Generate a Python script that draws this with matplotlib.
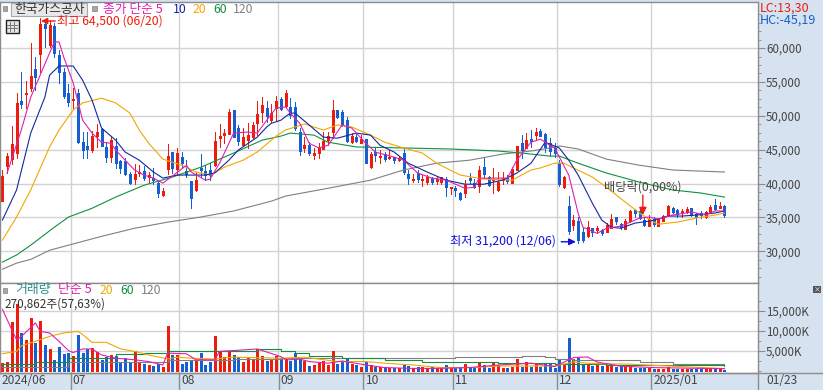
import numpy as np
import matplotlib
matplotlib.use("Agg")
from matplotlib import pyplot as plt
from matplotlib.patches import Rectangle

plt.rcParams["font.family"] = ["Noto Sans CJK KR", "DejaVu Sans"]

# Daily candles, one value per trading day
opens = [37400, 42550, 43600, 44500, 52150, 53200, 54100, 56900, 59100, 63550,
         60450, 63250, 58950, 56450, 53350, 52300, 53350, 46100, 45550, 44950,
         47000, 48050, 45400, 43900, 45550, 43300, 43300, 41400, 40650, 41550,
         41850, 40950, 40800, 40050, 38300, 42150, 44650, 42150, 43900, 41850,
         40350, 39050, 42300, 41850, 42000, 42700, 46700, 47150, 47300, 50850,
         48200, 45650, 46400, 46850, 48900, 50550, 51150, 49350, 51150, 52450,
         51450, 51300, 51300, 47600, 45250, 45650, 44200, 44500, 45100, 46400,
         47600, 50850, 50550, 49350, 46100, 46850, 45950, 46550, 42400, 44650,
         43900, 44350, 43750, 43900, 43450, 44500, 41400, 40500, 41550, 40500,
         40200, 40800, 40350, 40200, 40650, 39300, 39300, 38600, 38600, 40800,
         40050, 39600, 42400, 40950, 40500, 39050, 40500, 40800, 40050, 42000,
         45950, 45250, 46550, 47150, 47750, 47300, 45950, 45250, 43000, 39450,
         36650, 33850, 34450, 32800, 32250, 33400, 33100, 33100, 32800, 33400,
         35050, 34000, 33250, 34450, 36050, 35950, 34600, 33700, 34750, 33700,
         34450, 35350, 36350, 36050, 35800, 35800, 36350, 35450, 35650, 35050,
         35650, 36800, 36350, 36650]
highs = [42000, 44500, 48500, 53350, 56450, 55150, 60750, 58650, 64500, 63850,
         64150, 63700, 59700, 57050, 54700, 54100, 53950, 47600, 47600, 47750,
         48800, 48200, 46100, 46850, 46700, 43450, 43750, 41700, 42850, 42700,
         42550, 41700, 42300, 40500, 39300, 45800, 44650, 45250, 44650, 43450,
         40350, 41700, 44350, 42700, 43000, 47600, 48800, 48050, 51000, 50850,
         48650, 48200, 48950, 49050, 52150, 52750, 52150, 51750, 52900, 52750,
         53800, 52600, 52000, 48200, 46850, 46100, 45250, 45950, 47600, 47600,
         52300, 50850, 50850, 49800, 47450, 47450, 47150, 46550, 44650, 45400,
         44950, 44650, 44950, 43900, 44050, 45250, 42000, 41400, 42000, 41250,
         41250, 40950, 40950, 40950, 40950, 39450, 39600, 38750, 40500, 41550,
         40650, 42550, 43900, 41100, 42300, 41700, 41700, 41250, 42400, 45550,
         47150, 47450, 47900, 48200, 48050, 47450, 46700, 45950, 43450, 41100,
         38150, 35350, 35050, 33550, 34450, 33400, 33700, 33250, 34150, 35500,
         35050, 34150, 34750, 36050, 36200, 36500, 35050, 35350, 35050, 34900,
         35350, 36800, 36500, 36200, 36200, 36500, 36350, 35650, 35950, 35950,
         36800, 37700, 37250, 36800]
lows = [37400, 41550, 42850, 43750, 51150, 51150, 53650, 53800, 56450, 60150,
        60150, 58650, 54850, 52600, 51450, 51150, 45950, 43750, 43750, 44650,
        45400, 45550, 43150, 43150, 42300, 41550, 41250, 39900, 39900, 41100,
        40500, 40200, 39900, 38000, 38150, 41400, 41550, 41400, 42300, 40950,
        36350, 38900, 40950, 40500, 40500, 42550, 45400, 45950, 47300, 46850,
        45650, 45550, 45250, 46700, 47150, 49050, 49050, 49050, 49200, 50850,
        51300, 49650, 47900, 44200, 44650, 44200, 43600, 43750, 45100, 45650,
        46700, 49650, 48500, 46100, 45950, 46100, 45950, 43000, 42300, 43300,
        43000, 43300, 43600, 43000, 43300, 41400, 39900, 40200, 40200, 39600,
        39900, 39900, 39900, 39900, 38150, 38450, 38150, 37550, 38000, 40050,
        39300, 38750, 40800, 39600, 38600, 38900, 39900, 40050, 40050, 42000,
        43750, 45250, 45400, 46550, 47000, 44650, 44050, 43900, 39600, 39300,
        32550, 33100, 31200, 31300, 32100, 32250, 32650, 32400, 32800, 33400,
        34000, 33250, 33250, 34300, 35050, 34750, 33700, 33700, 33700, 33700,
        34450, 35200, 35650, 35050, 35050, 35650, 35200, 34000, 34900, 34900,
        35650, 36050, 36350, 35050]
closes = [41150, 44050, 45800, 51900, 51750, 53350, 55850, 55700, 63550, 62950,
          63400, 59250, 56450, 52900, 52000, 52450, 46100, 44950, 45100, 47000,
          47600, 45550, 43900, 46400, 43000, 42300, 41400, 40050, 41400, 41700,
          40800, 41250, 40500, 38600, 38900, 44050, 42300, 44500, 43000, 41400,
          37850, 40500, 42000, 41250, 41250, 46250, 47000, 47450, 50550, 46850,
          46250, 46850, 47150, 48650, 50250, 51600, 49950, 50400, 52150, 51000,
          53350, 50100, 48200, 44800, 45650, 44500, 44500, 45400, 46250, 47000,
          50850, 49800, 48800, 46250, 47000, 46250, 46550, 43000, 44350, 44200,
          44050, 43600, 43900, 43450, 43750, 41700, 40800, 40650, 40650, 40650,
          40950, 40200, 40650, 40950, 39450, 39450, 39050, 37700, 39750, 40500,
          39450, 42000, 41400, 39750, 40650, 40200, 40800, 40350, 42150, 45550,
          44950, 46400, 46250, 47600, 47000, 45400, 44800, 44500, 39900, 40950,
          32950, 34600, 31650, 31650, 33550, 32800, 33400, 32650, 33850, 34750,
          34450, 33550, 34450, 35950, 35650, 34900, 33850, 34750, 34000, 34750,
          35200, 36650, 35800, 35450, 35950, 36200, 35350, 35050, 35350, 35800,
          36500, 36200, 36650, 35350]

# Traded volume in thousands of shares
volumes = [1950, 2350, 12200, 16600, 9500, 7800, 13300, 7000, 12600, 6550,
           5550, 2800, 6100, 4300, 4600, 3800, 9100, 4600, 5500, 5700,
           4800, 2800, 3400, 4000, 3800, 2100, 3200, 2350, 4900, 1950,
           1750, 1500, 1250, 1750, 1100, 11300, 4000, 4000, 1750, 2350,
           2500, 2800, 4600, 1500, 2350, 8800, 5100, 3600, 5100, 4000,
           3400, 2350, 3200, 2950, 5500, 3800, 2600, 2950, 3800, 3200,
           2950, 2600, 4450, 2950, 2500, 1250, 1500, 1950, 2500, 1500,
           5050, 1750, 2350, 2950, 1750, 1500, 1100, 2350, 1500, 1000,
           1100, 1100, 850, 850, 850, 1500, 1250, 850, 1100, 1100,
           850, 1100, 650, 650, 1500, 650, 650, 650, 1750, 650,
           650, 2100, 1500, 650, 2100, 1500, 650, 650, 1100, 3000,
           1100, 2250, 1100, 1950, 900, 1950, 1850, 750, 2700, 1450,
           8150, 3100, 3350, 1850, 1850, 1200, 2000, 1200, 1450, 1450,
           1000, 1200, 1200, 1200, 850, 850, 850, 850, 600, 600,
           600, 1000, 600, 600, 600, 600, 600, 600, 600, 600,
           850, 600, 600, 271]

# Moving averages of price at these trading days
ma5_days = [1, 4, 6, 11, 12, 13, 15, 17, 19, 21, 23, 24, 26, 28, 30, 32, 34, 36,
            39, 40, 43, 44, 46, 48, 49, 52, 54, 56, 58, 60, 61, 63, 65, 67, 69,
            72, 74, 77, 79, 83, 85, 88, 91, 94, 98, 100, 101, 105, 107, 109, 112,
            114, 116, 117, 120, 122, 123, 126, 128, 131, 135, 137, 139, 142, 146,
            149, 151, 153]
ma5_vals = [41550, 47900, 52750, 60900, 60900, 58650, 54850, 49350, 47450, 46100,
            45950, 44950, 43450, 42000, 41250, 40800, 40050, 41100, 42700, 41700,
            40500, 40650, 43000, 45950, 47450, 47600, 47450, 49350, 51150, 51300,
            50400, 48900, 45950, 45250, 45650, 48650, 48200, 45950, 44650, 43900,
            43450, 41550, 40800, 40500, 39300, 39450, 40800, 40800, 40800, 43450,
            46100, 46550, 45650, 45250, 41250, 35600, 33550, 32650, 33400, 33700,
            34900, 35050, 34750, 35350, 35800, 35350, 35950, 35950]
ma10_days = [0, 3, 6, 9, 10, 12, 15, 17, 19, 21, 24, 26, 29, 32, 34, 37, 40, 43,
             45, 48, 50, 54, 56, 57, 59, 61, 62, 65, 68, 71, 75, 78, 80, 83, 86,
             90, 94, 98, 102, 106, 109, 112, 115, 118, 120, 122, 125, 127, 129,
             131, 134, 137, 139, 141, 144, 147, 151, 153]
ma10_vals = [34600, 39050, 47450, 52750, 56000, 57350, 57350, 55250, 52300, 48200,
             46400, 44650, 43450, 41700, 40800, 41250, 41250, 41250, 41550, 43450,
             44950, 46850, 48350, 48900, 49350, 50400, 50400, 48650, 46850, 46700,
             47450, 47150, 45650, 44650, 43000, 41700, 40500, 39900, 39900, 40500,
             41550, 43000, 46100, 45250, 43450, 41250, 37100, 34600, 33550, 33400,
             34150, 34450, 34750, 35200, 35200, 35350, 35650, 35950]
ma20_days = [0, 3, 6, 10, 12, 15, 17, 21, 24, 27, 29, 31, 34, 38, 41, 44, 47, 51,
             54, 58, 60, 64, 68, 71, 74, 78, 81, 85, 89, 92, 97, 102, 108, 112,
             114, 117, 119, 121, 125, 128, 132, 135, 138, 139, 143, 147, 151, 153]
ma20_vals = [31650, 35050, 39050, 45400, 47900, 50850, 51900, 52600, 51900, 50400,
             47900, 45950, 43600, 42700, 41700, 41250, 42400, 43450, 44650, 47000,
             47900, 48800, 47900, 48650, 48350, 47150, 46100, 45250, 44500, 43000,
             41250, 40650, 40500, 42000, 42300, 43000, 43000, 42300, 40950, 39450,
             37250, 35650, 34300, 34000, 34300, 34900, 35350, 35650]
ma60_days = [0, 3, 6, 11, 14, 19, 24, 30, 36, 42, 49, 55, 59, 61, 66, 69, 75, 85,
             95, 105, 110, 116, 118, 122, 128, 135, 142, 148, 153]
ma60_vals = [28400, 29450, 30900, 33550, 35050, 36350, 38000, 39750, 40950, 42400,
             44500, 46400, 47000, 47450, 47150, 46100, 45400, 45250, 45100, 44800,
             44500, 44050, 44050, 43000, 41550, 40200, 39050, 38600, 38000]
ma120_days = [0, 3, 6, 10, 14, 21, 28, 35, 42, 49, 57, 60, 69, 78, 85, 92, 99, 106,
              112, 116, 118, 122, 128, 135, 142, 153]
ma120_vals = [27350, 28250, 28800, 30150, 30900, 32200, 33400, 34300, 35050, 35950,
              37400, 38150, 39300, 40500, 42000, 43000, 43450, 44350, 44800, 45250,
              45550, 45100, 43600, 42700, 42000, 41700]

# Moving averages of volume
vol5_days = [0, 2, 3, 4, 7, 8, 10, 12, 14, 15, 17, 19, 21, 24, 28, 31, 34, 35, 39,
             41, 45, 46, 49, 54, 59, 60, 63, 65, 69, 72, 74, 77, 81, 87, 92, 99,
             105, 112, 117, 121, 124, 126, 131, 138, 148, 153]
vol5_vals = [15400, 10300, 7800, 8600, 12000, 9900, 9500, 7400, 5100, 4600, 5500,
             5500, 4000, 3200, 2800, 2350, 1500, 4450, 4300, 2800, 2800, 4900, 5100,
             5500, 3600, 2750, 2950, 2350, 1950, 2500, 2100, 1500, 850, 650, 650,
             850, 1500, 1950, 1100, 3350, 3500, 2250, 1200, 850, 650, 600]
vol20_days = [0, 3, 4, 7, 10, 13, 16, 17, 19, 22, 25, 28, 31, 35, 37, 40, 45, 49,
              59, 64, 71, 77, 81, 87, 93, 99, 106, 117, 121, 125, 133, 142, 153]
vol20_vals = [4300, 4900, 6300, 7400, 8650, 9500, 9900, 9100, 7150, 7150, 5550, 4900,
              4000, 3000, 3450, 3200, 3000, 3450, 3200, 3450, 2350, 2350, 1950, 1500,
              850, 850, 1250, 1250, 2250, 1850, 1700, 1200, 600]
vol60_days = [0, 7, 14, 24, 30, 35, 42, 46, 54, 59, 62, 65, 72, 81, 89, 96, 105, 117,
              121, 128, 139, 153]
vol60_vals = [1750, 2350, 3200, 4200, 4450, 4900, 4900, 5100, 5550, 4900, 4450, 3800,
              3350, 2750, 2350, 2200, 1950, 1700, 1850, 1600, 1450, 1200]
vol120_days = [0, 14, 28, 35, 49, 59, 76, 96, 109, 110, 115, 117, 121, 125, 135, 142, 153]
vol120_vals = [1100, 2200, 2350, 2800, 2950, 3200, 3350, 3450, 3450, 3800, 3600, 3000,
               2850, 2700, 2250, 1850, 1850]

month_days = [15, 38, 59, 77, 96, 118, 138]
month_labels = ["07", "08", "09", "10", "11", "12", "2025/01"]
price_ticks = [30000, 35000, 40000, 45000, 50000, 55000, 60000]
volume_ticks = [5000, 10000, 15000]

RED = "#ee1c0c"
BLUE = "#1560d0"
MAGENTA = "#e020b0"
NAVY = "#1428a0"
ORANGE = "#f0a800"
GREEN = "#109040"
GRAY = "#808080"
TEAL = "#2a9090"
BAND = "#d6e2f0"
GRID = "#d2d2d2"
FRAME = "#8c8c8c"
TEXT = "#444444"
BAR_LW = 2.16  # three pixels at 100 dpi
LINE_LW = 0.8

W, H = 823, 390
fig = plt.figure(figsize=(W / 100, H / 100), dpi=100, facecolor=BAND)


def panel(left, top, right, bottom):
    return fig.add_axes([left / W, 1 - bottom / H, (right - left) / W, (bottom - top) / H])


def label(x, y, s, color=TEXT, size=8.8, **kw):
    fig.text(x / W, 1 - y / H, s, color=color, fontsize=size, va="center", **kw)


ax = panel(0, 2, 758, 282.5)
ax_vol = panel(0, 282.5, 758, 372.5)

days = np.arange(len(closes))
o, h, l, c = map(np.array, (opens, highs, lows, closes))
colors = [RED if b >= a else BLUE for a, b in zip(opens, closes)]

for a in (ax, ax_vol):
    a.set_facecolor("white")
    a.set_xlim(-0.51, 160.1)
    a.set_xticks([d - 0.5 for d in month_days])
    a.tick_params(axis="x", length=0, labelbottom=False)
    a.grid(True, color=GRID, lw=1.0)
    a.set_axisbelow(True)
    a.yaxis.tick_right()
    for side in a.spines:
        a.spines[side].set_color(FRAME)
        a.spines[side].set_linewidth(1.0)
    a.tick_params(axis="y", which="major", length=4.8, color=FRAME, labelcolor=TEXT,
                  labelsize=8.3, pad=1)
    a.tick_params(axis="y", which="minor", length=2.2, color=FRAME)

# price panel
ax.set_ylim(25390, 66800)
ax.set_yticks(price_ticks)
ax.set_yticklabels([f"{v:,}" for v in price_ticks])
ax.set_yticks(np.arange(26250, 66000, 1250), minor=True)

top = np.maximum(o, c)
bottom = np.minimum(top - 150, np.minimum(o, c))
ax.vlines(days, l, h, colors=colors, lw=0.72, antialiased=False, capstyle="butt", zorder=2)
ax.vlines(days, bottom, top, colors=colors, lw=BAR_LW, antialiased=False, capstyle="butt", zorder=2)

for d, v, col in [(ma120_days, ma120_vals, GRAY), (ma60_days, ma60_vals, GREEN),
                  (ma20_days, ma20_vals, ORANGE), (ma10_days, ma10_vals, NAVY),
                  (ma5_days, ma5_vals, MAGENTA)]:
    ax.plot(d, v, color=col, lw=LINE_LW, zorder=3)

# volume panel
ax_vol.set_ylim(-376, 22090)
ax_vol.set_yticks(volume_ticks)
ax_vol.set_yticklabels([f"{v:,}K" for v in volume_ticks])
ax_vol.set_yticks([0, 2500, 7500, 12500, 17500], minor=True)
ax_vol.vlines(days, 0, volumes, colors=colors, lw=BAR_LW, antialiased=False, capstyle="butt", zorder=2)
for d, v, col in [(vol120_days, vol120_vals, GRAY), (vol60_days, vol60_vals, GREEN),
                  (vol20_days, vol20_vals, ORANGE), (vol5_days, vol5_vals, MAGENTA)]:
    ax_vol.plot(d, v, color=col, lw=LINE_LW,
                drawstyle="steps-post" if col in (GREEN, GRAY) else "default", zorder=3)

# arrows and notes on the chart
ax.annotate("", xy=(8.2, 63990), xytext=(11.2, 63990),
            arrowprops=dict(arrowstyle="-|>", color=RED, lw=1, mutation_scale=9, shrinkA=0, shrinkB=0))
ax.annotate("", xy=(121.5, 31400), xytext=(118.4, 31400),
            arrowprops=dict(arrowstyle="-|>", color="#1010e0", lw=1, mutation_scale=10, shrinkA=0, shrinkB=0))
ax.annotate("", xy=(135.7, 35350), xytext=(135.7, 38300),
            arrowprops=dict(arrowstyle="-|>", color=RED, lw=1, mutation_scale=11, shrinkA=0, shrinkB=0))
label(57, 21, "최고 64,500 (06/20)", RED)
label(450, 241, "최저 31,200 (12/06)", "#1010e0")
label(604, 187, "배당락(0,00%)", TEXT)

# header legend
fig.add_artist(Rectangle((11 / W, 1 - 16 / H), 76 / W, 13.5 / H, transform=fig.transFigure,
                         facecolor="#e8e8e8", edgecolor="#a8a8a8", lw=0.8))
for sq_x, sq_y in [(3, 6), (92, 6), (3, 288)]:
    fig.add_artist(Rectangle((sq_x / W, 1 - (sq_y + 4.5) / H), 4.5 / W, 4.5 / H, transform=fig.transFigure,
                             facecolor="#a8a8a8", edgecolor="#808080", lw=0.5))
label(14, 9.5, "한국가스공사", "#333333", size=9.2)
label(103, 9.5, "종가 단순 5", MAGENTA, size=9.2)
label(173, 9.5, "10", NAVY)
label(193, 9.5, "20", ORANGE)
label(213, 9.5, "60", GREEN)
label(233, 9.5, "120", GRAY)

# table icon under the title
fig.add_artist(Rectangle((5.5 / W, 1 - 33 / H), 13 / W, 13 / H, transform=fig.transFigure,
                         facecolor="#e8e8e8", edgecolor="#222222", lw=1.0))
for gx in (9.5, 13.5):
    fig.add_artist(plt.Line2D([gx / W, gx / W], [1 - 31 / H, 1 - 22 / H], color="#777777", lw=0.7))
for gy in (24.5, 28):
    fig.add_artist(plt.Line2D([7.5 / W, 16.5 / W], [1 - gy / H, 1 - gy / H], color="#777777", lw=0.7))

# volume legend
label(15, 290, "거래량", TEAL, size=9.3)
label(58, 290, "단순 5", MAGENTA, size=9.3)
label(100, 290, "20", ORANGE)
label(120, 290, "60", GREEN)
label(141, 290, "120", GRAY)
label(4, 304, "270,862주(57,63%)", "#333333", size=8.4)

# top right readings and the little resize icon
label(760, 8, "LC:13,30", RED, size=9)
label(760, 20, "HC:-45,19", BLUE, size=9)
fig.add_artist(Rectangle((813 / W, 1 - 293 / H), 8 / W, 7 / H, transform=fig.transFigure,
                         facecolor="#555555", edgecolor="none"))
label(817, 289.3, "×", "white", size=5, ha="center")

# date band
fig.add_artist(plt.Line2D([0, 1], [1 - 372.5 / H] * 2, color=FRAME, lw=1.0))
label(2, 380.5, "2024/06", TEXT, size=8.6)
for d, s in zip(month_days, month_labels):
    px = 2.4 + 4.72 * (d - 0.5)
    fig.add_artist(plt.Line2D([px / W] * 2, [0, 1 - 372.5 / H], color=FRAME, lw=1.0))
    label(px + 2, 380.5, s, TEXT, size=8.6)
fig.add_artist(plt.Line2D([758 / W] * 2, [0, 1 - 372.5 / H], color=FRAME, lw=1.0))
label(766, 380.5, "01/23", TEXT, size=8.6)

fig.savefig("out.png", dpi=100, facecolor=fig.get_facecolor())
